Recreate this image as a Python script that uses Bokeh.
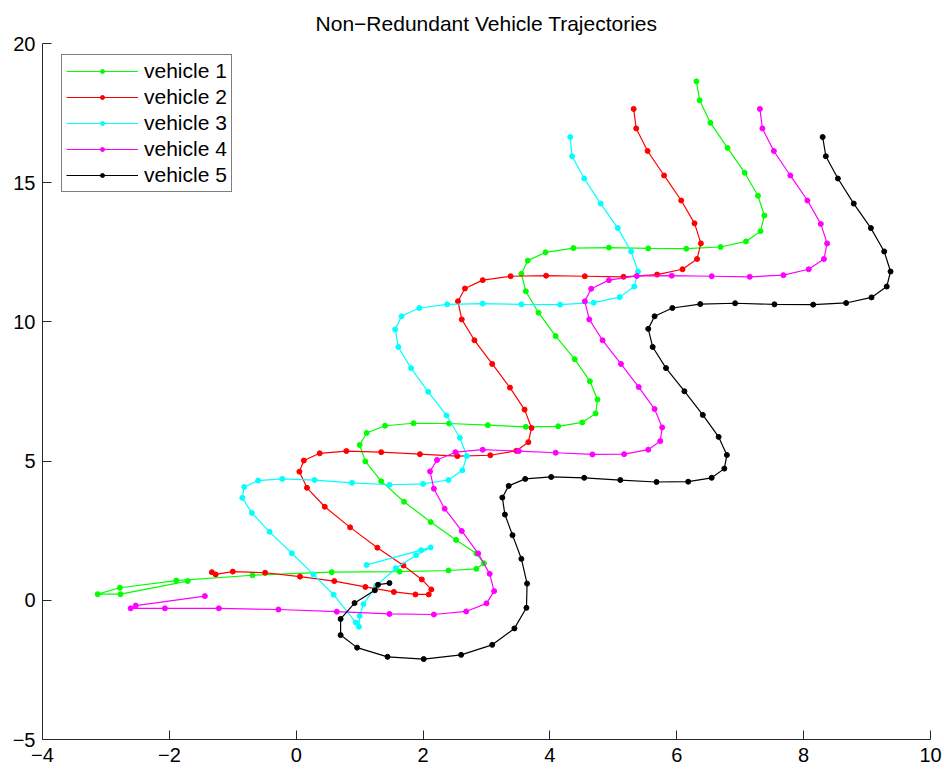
from bokeh.plotting import figure
from bokeh.models import Range1d, FixedTicker, Legend, LegendItem
from bokeh.embed import file_html
from bokeh.resources import INLINE

title_text = "Non\u2212Redundant Vehicle Trajectories"
series_names = ["vehicle 1", "vehicle 2", "vehicle 3", "vehicle 4", "vehicle 5"]
series_colors = ["#00ff00", "#ff0000", "#00ffff", "#ff00ff", "#000000"]

x_ticks = [-4, -2, 0, 2, 4, 6, 8, 10]
x_tick_labels = ["\u22124", "\u22122", "0", "2", "4", "6", "8", "10"]
y_ticks = [-5, 0, 5, 10, 15, 20]
y_tick_labels = ["\u22125", "0", "5", "10", "15", "20"]

v1_x = [6.31, 6.36, 6.53, 6.80, 7.07, 7.28, 7.38, 7.32, 7.09, 6.69, 6.15, 5.55, 4.93, 4.37,
        3.93, 3.65, 3.55, 3.62, 3.82, 4.09, 4.39, 4.63, 4.75, 4.72, 4.51, 4.13, 3.62, 3.02,
        2.41, 1.85, 1.40, 1.11, 1.00, 1.09, 1.34, 1.70, 2.12, 2.52, 2.84, 2.96, 2.84, 2.40,
        1.63, 0.56, -0.69, -1.89, -2.78, -3.13, -2.77, -1.71]
v1_y = [18.64, 17.96, 17.15, 16.25, 15.36, 14.53, 13.82, 13.26, 12.89, 12.69, 12.63, 12.64,
        12.67, 12.65, 12.50, 12.20, 11.73, 11.10, 10.33, 9.49, 8.66, 7.87, 7.21, 6.71, 6.39,
        6.25, 6.23, 6.29, 6.35, 6.36, 6.27, 6.01, 5.58, 4.99, 4.28, 3.54, 2.81, 2.17, 1.68,
        1.33, 1.13, 1.07, 1.03, 1.01, 0.90, 0.71, 0.45, 0.22, 0.22, 0.69]

v2_x = [5.32, 5.36, 5.54, 5.80, 6.07, 6.28, 6.38, 6.32, 6.09, 5.69, 5.16, 4.55, 3.94, 3.38,
        2.94, 2.66, 2.55, 2.61, 2.81, 3.09, 3.37, 3.60, 3.71, 3.66, 3.47, 3.06, 2.54, 1.95,
        1.34, 0.79, 0.37, 0.12, 0.05, 0.17, 0.45, 0.85, 1.28, 1.69, 1.98, 2.13, 2.09, 1.88,
        1.54, 1.09, 0.60, 0.06, -0.49, -1.00, -1.27, -1.33]
v2_y = [17.65, 16.95, 16.14, 15.26, 14.36, 13.54, 12.82, 12.26, 11.89, 11.70, 11.62, 11.64,
        11.66, 11.64, 11.50, 11.20, 10.74, 10.09, 9.34, 8.49, 7.64, 6.85, 6.19, 5.68, 5.37,
        5.21, 5.18, 5.25, 5.32, 5.36, 5.28, 5.02, 4.62, 4.04, 3.36, 2.62, 1.89, 1.25, 0.75,
        0.39, 0.21, 0.21, 0.30, 0.48, 0.69, 0.85, 0.99, 1.03, 0.93, 1.01]

v3_x = [4.32, 4.35, 4.54, 4.80, 5.07, 5.28, 5.39, 5.33, 5.10, 4.69, 4.16, 3.55, 2.94, 2.38,
        1.94, 1.66, 1.56, 1.61, 1.81, 2.08, 2.37, 2.58, 2.69, 2.62, 2.40, 2.00, 1.47, 0.88,
        0.29, -0.22, -0.60, -0.82, -0.85, -0.70, -0.42, -0.07, 0.27, 0.59, 0.94, 0.99, 1.00,
        1.06, 1.26, 1.57, 1.89, 2.12, 1.97, 1.11]
v3_y = [16.64, 15.95, 15.15, 14.25, 13.37, 12.53, 11.81, 11.27, 10.89, 10.69, 10.62, 10.63,
        10.66, 10.63, 10.50, 10.20, 9.73, 9.10, 8.34, 7.49, 6.64, 5.84, 5.18, 4.67, 4.32,
        4.18, 4.15, 4.22, 4.32, 4.36, 4.30, 4.07, 3.68, 3.14, 2.46, 1.69, 0.93, 0.20, -0.80,
        -0.95, -0.56, -0.14, 0.52, 1.15, 1.62, 1.90, 1.80, 1.27]

v4_x = [7.31, 7.35, 7.53, 7.79, 8.06, 8.27, 8.37, 8.32, 8.08, 7.68, 7.15, 6.55, 5.92, 5.37,
        4.93, 4.65, 4.55, 4.62, 4.83, 5.12, 5.40, 5.65, 5.77, 5.74, 5.55, 5.17, 4.67, 4.09,
        3.51, 2.94, 2.51, 2.22, 2.11, 2.17, 2.34, 2.61, 2.87, 3.05, 3.12, 3.00, 2.68, 2.17,
        1.47, 0.64, -0.28, -1.22, -2.07, -2.61, -2.53, -1.44]
v4_y = [17.65, 16.95, 16.14, 15.26, 14.36, 13.52, 12.82, 12.26, 11.89, 11.68, 11.62, 11.64,
        11.66, 11.65, 11.50, 11.19, 10.74, 10.09, 9.34, 8.49, 7.66, 6.87, 6.21, 5.72, 5.41,
        5.25, 5.24, 5.30, 5.36, 5.41, 5.32, 5.04, 4.63, 4.01, 3.29, 2.49, 1.68, 0.95, 0.33,
        -0.11, -0.40, -0.51, -0.49, -0.41, -0.33, -0.29, -0.29, -0.29, -0.19, 0.15]

v5_x = [8.30, 8.35, 8.54, 8.79, 9.06, 9.27, 9.37, 9.31, 9.07, 8.67, 8.15, 7.54, 6.92, 6.37,
        5.93, 5.65, 5.55, 5.62, 5.83, 6.12, 6.41, 6.66, 6.79, 6.75, 6.55, 6.18, 5.68, 5.11,
        4.54, 4.02, 3.61, 3.35, 3.25, 3.29, 3.41, 3.55, 3.64, 3.63, 3.44, 3.09, 2.60, 2.01,
        1.44, 0.96, 0.70, 0.70, 0.92, 1.24, 1.29, 1.47]
v5_y = [16.64, 15.95, 15.15, 14.25, 13.37, 12.53, 11.81, 11.27, 10.88, 10.68, 10.62, 10.63,
        10.67, 10.64, 10.50, 10.20, 9.75, 9.10, 8.34, 7.51, 6.66, 5.87, 5.22, 4.73, 4.40,
        4.26, 4.25, 4.32, 4.40, 4.43, 4.36, 4.11, 3.69, 3.08, 2.34, 1.49, 0.60, -0.27, -1.01,
        -1.60, -1.96, -2.11, -2.03, -1.70, -1.25, -0.67, -0.10, 0.36, 0.56, 0.62]

series_x = [v1_x, v2_x, v3_x, v4_x, v5_x]
series_y = [v1_y, v2_y, v3_y, v4_y, v5_y]

FONT = "Liberation Sans"
AX = "#262626"

p = figure(width=944, height=770, output_backend="svg", toolbar_location=None,
           x_range=Range1d(-4, 10), y_range=Range1d(-5, 20),
           min_border_left=42, min_border_right=14, min_border_top=43, min_border_bottom=31)
p.title.text = title_text
p.title.align = "center"
p.title.text_font = FONT
p.title.text_font_size = "21px"
p.title.text_font_style = "normal"
p.title.text_color = "black"
p.title.standoff = 18

p.grid.visible = False
p.outline_line_color = None
p.background_fill_color = "white"
p.border_fill_color = "white"

for ax in (p.xaxis[0], p.yaxis[0]):
    ax.major_tick_in = 9
    ax.major_tick_out = 0
    ax.minor_tick_in = 0
    ax.minor_tick_out = 0
    ax.axis_line_color = AX
    ax.axis_line_width = 1
    ax.major_tick_line_color = AX
    ax.major_label_text_font = FONT
    ax.major_label_text_font_size = "20px"
    ax.major_label_text_color = "black"

p.xaxis.ticker = FixedTicker(ticks=x_ticks)
p.xaxis.major_label_overrides = {t: s for t, s in zip(x_ticks, x_tick_labels)}
p.xaxis.major_label_standoff = 8
p.yaxis.ticker = FixedTicker(ticks=y_ticks)
p.yaxis.major_label_standoff = 7
p.yaxis.major_label_overrides = {t: s for t, s in zip(y_ticks, y_tick_labels)}

items = []
for name, col, xs, ys in zip(series_names, series_colors, series_x, series_y):
    ln = p.line(xs, ys, line_color=col, line_width=1.2)
    sc = p.scatter(xs, ys, marker="circle", size=5, fill_color=col, line_color=col)
    items.append(LegendItem(label=name, renderers=[ln, sc]))

legend = Legend(items=items, location=(19, 547), margin=0,
                border_line_color="black", border_line_width=1,
                background_fill_color="white", background_fill_alpha=1,
                label_text_font=FONT, label_text_font_size="21px",
                label_text_color="black",
                glyph_width=72, glyph_height=10, label_height=22,
                spacing=2, padding=4, label_standoff=6)
p.add_layout(legend)

open("out.html", "w").write(file_html(p, INLINE))
